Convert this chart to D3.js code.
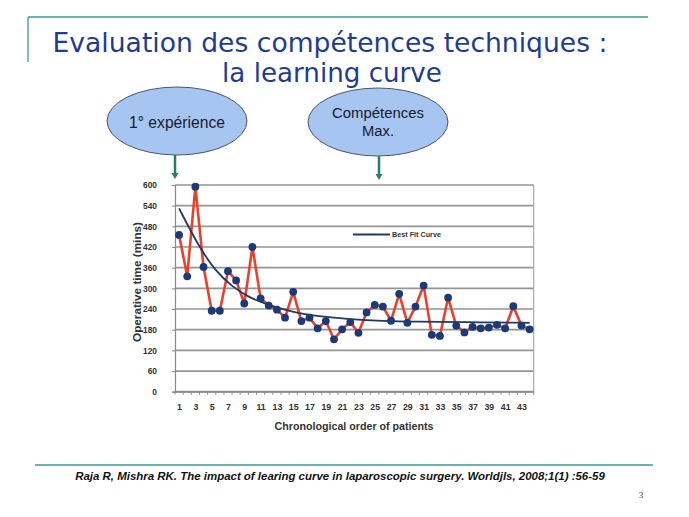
<!DOCTYPE html>
<html><head><meta charset="utf-8">
<script src="https://cdn.jsdelivr.net/npm/d3@7"></script>
<style>body{margin:0;background:#fff}svg{display:block}</style>
</head><body>
<script>
// ---- data ----
const patients = [1,2,3,4,5,6,7,8,9,10,11,12,13,14,15,16,17,18,19,20,21,22,23,24,25,26,27,28,29,30,31,32,33,34,35,36,37,38,39,40,41,42,43,44];
const operativeTime = [455,335,595,362,235,235,350,323,256,420,271,250,238,215,290,205,215,184,205,152,181,202,171,230,252,247,206,284,200,247,308,165,162,273,192,172,188,184,186,194,184,248,192,181];
const fitPatient = [1,3.4,5.4,7.5,9.5,11.5,15,18,22,26,30,36,44];
const fitTime =    [532,422,352,305,275,255,230,219,210,205,203,202,200];
const yTicks = [0,60,120,180,240,300,360,420,480,540,600];
const xTickLabels = [1,3,5,7,9,11,13,15,17,19,21,23,25,27,29,31,33,35,37,39,41,43];

const W = 689, H = 517;
const svg = d3.select("body").append("svg").attr("width", W).attr("height", H);

function fit(sel, target){
  const l = sel.node().getComputedTextLength();
  const fs = parseFloat(sel.attr("font-size"));
  sel.attr("font-size", (fs*target/l).toFixed(2));
  return sel;
}

const teal = "#3f9a93";
// slide decorations
svg.append("line").attr("x1",28).attr("x2",648).attr("y1",17).attr("y2",17).attr("stroke",teal).attr("stroke-width",1.3);
svg.append("line").attr("x1",28).attr("x2",28).attr("y1",17).attr("y2",62).attr("stroke",teal).attr("stroke-width",1.3);
svg.append("line").attr("x1",35).attr("x2",653).attr("y1",465).attr("y2",465).attr("stroke",teal).attr("stroke-width",1.5);

const titleColor = "#1f3c8f";
const t1 = svg.append("text").attr("x",330).attr("y",52).attr("text-anchor","middle")
  .attr("font-family","DejaVu Sans").attr("font-size",26).attr("fill",titleColor)
  .text("Evaluation des compétences techniques :");
fit(t1,555);
const t2 = svg.append("text").attr("x",332).attr("y",82).attr("text-anchor","middle")
  .attr("font-family","DejaVu Sans").attr("font-size",26).attr("fill",titleColor)
  .text("la learning curve");
fit(t2,220);

// ellipses
const bubbles = [
  {cx:177, cy:121, lines:["1° expérience"], ys:[128], w:[96]},
  {cx:378, cy:122, lines:["Compétences","Max."], ys:[118,136], w:[92,32]}
];
bubbles.forEach(b=>{
  svg.append("ellipse").attr("cx",b.cx).attr("cy",b.cy).attr("rx",70).attr("ry",34)
    .attr("fill","#a6c5f0").attr("stroke","#4a5670").attr("stroke-width",1);
  b.lines.forEach((s,i)=>{
    const t = svg.append("text").attr("x",b.cx).attr("y",b.ys[i]).attr("text-anchor","middle")
      .attr("font-family","Liberation Sans, Arial").attr("font-size",13.5).attr("fill","#1a1a2e").text(s);
    fit(t,b.w[i]);
  });
  const ax = b.cx - 2 + (b.cx>300?3:0);
  svg.append("line").attr("x1",ax).attr("x2",ax).attr("y1",b.cy+34).attr("y2",b.cy+54)
    .attr("stroke","#2b7a6e").attr("stroke-width",2.5);
  svg.append("path").attr("d",`M${ax-3.5},${b.cy+52} L${ax+3.5},${b.cy+52} L${ax},${b.cy+58} Z`).attr("fill","#2b7a6e");
});

// ---- chart ----
const L = 175, R = 533.7, T = 185, B = 391.7;
const x = d3.scalePoint().domain(patients).range([L,R]).padding(0.5);
const xLin = d3.scaleLinear().domain([1,44]).range([x(1), x(44)]);
const y = d3.scaleLinear().domain([0,600]).range([B,T]);

const g = svg.append("g");
// gridlines
g.selectAll(".grid").data(yTicks).enter().append("line")
  .attr("x1",L).attr("x2",R).attr("y1",d=>y(d)).attr("y2",d=>y(d))
  .attr("stroke","#959595").attr("stroke-width",1.7);
// right border
g.append("line").attr("x1",R).attr("x2",R).attr("y1",T).attr("y2",B).attr("stroke","#aaa").attr("stroke-width",1.2);

const yAxis = g.append("g").attr("transform",`translate(${L},0)`)
  .call(d3.axisLeft(y).tickValues(yTicks).tickSize(3).tickPadding(15));
yAxis.select(".domain").attr("stroke","#888").attr("stroke-width",1.2);
yAxis.selectAll(".tick line").attr("stroke","#888");
yAxis.selectAll("text").attr("font-family","Liberation Sans, Arial").attr("font-weight","bold")
  .attr("font-size",8.4).attr("fill","#333");

const bandEdges = patients.map(p=>x(p)-x.step()/2).concat([R]);
g.selectAll(".xt").data(bandEdges).enter().append("line")
  .attr("x1",d=>d).attr("x2",d=>d).attr("y1",B).attr("y2",B+3).attr("stroke","#888");
const xAxis = g.append("g").attr("transform",`translate(0,${B})`)
  .call(d3.axisBottom(x).tickValues(xTickLabels).tickSize(0).tickPadding(12));
xAxis.select(".domain").attr("stroke","#888").attr("stroke-width",1.2);
xAxis.selectAll("text").attr("font-family","Liberation Sans, Arial").attr("font-weight","bold")
  .attr("font-size",8.8).attr("fill","#333");

// axis titles
const xt = svg.append("text").attr("x",354).attr("y",429.5).attr("text-anchor","middle")
  .attr("font-family","Liberation Sans, Arial").attr("font-weight","bold").attr("font-size",9).attr("fill","#333")
  .text("Chronological order of patients");
fit(xt,159);
const yt = svg.append("text").attr("transform","translate(141,282) rotate(-90)").attr("text-anchor","middle")
  .attr("font-family","Liberation Sans, Arial").attr("font-weight","bold").attr("font-size",9).attr("fill","#333")
  .text("Operative time (mins)");
fit(yt,120);

// data line
const pts = patients.map((p,i)=>[x(p), y(operativeTime[i])]);
g.append("path").attr("d",d3.line()(pts)).attr("fill","none").attr("stroke","#e8412c").attr("stroke-width",2.6).attr("stroke-linejoin","round");
// fit curve
const fpts = fitPatient.map((p,i)=>[xLin(p), y(fitTime[i])]);
g.append("path").attr("d",d3.line().curve(d3.curveBasis)(fpts)).attr("fill","none").attr("stroke","#1f3864").attr("stroke-width",1.8);
// dots
g.selectAll(".dot").data(pts).enter().append("circle").attr("cx",d=>d[0]).attr("cy",d=>d[1]).attr("r",3.9).attr("fill","#1b3a78");

// legend
g.append("line").attr("x1",353).attr("x2",390).attr("y1",234.5).attr("y2",234.5).attr("stroke","#1f3864").attr("stroke-width",1.8);
const lt = g.append("text").attr("x",392).attr("y",236.5).attr("font-family","Liberation Sans, Arial").attr("font-weight","bold")
  .attr("font-size",5.5).attr("fill","#333").text("Best Fit Curve");
fit(lt,49);

// citation and page number
const cit = svg.append("text").attr("x",340).attr("y",480).attr("text-anchor","middle")
  .attr("font-family","Liberation Sans, Arial").attr("font-weight","bold").attr("font-style","italic")
  .attr("font-size",10).attr("fill","#111")
  .text("Raja R, Mishra RK. The impact  of learing curve in laparoscopic  surgery. Worldjls,  2008;1(1) :56-59");
fit(cit,530);
svg.append("text").attr("x",641).attr("y",498).attr("text-anchor","middle")
  .attr("font-family","Liberation Serif, Times New Roman").attr("font-size",9).attr("fill","#444").text("3");
</script>
</body></html>
